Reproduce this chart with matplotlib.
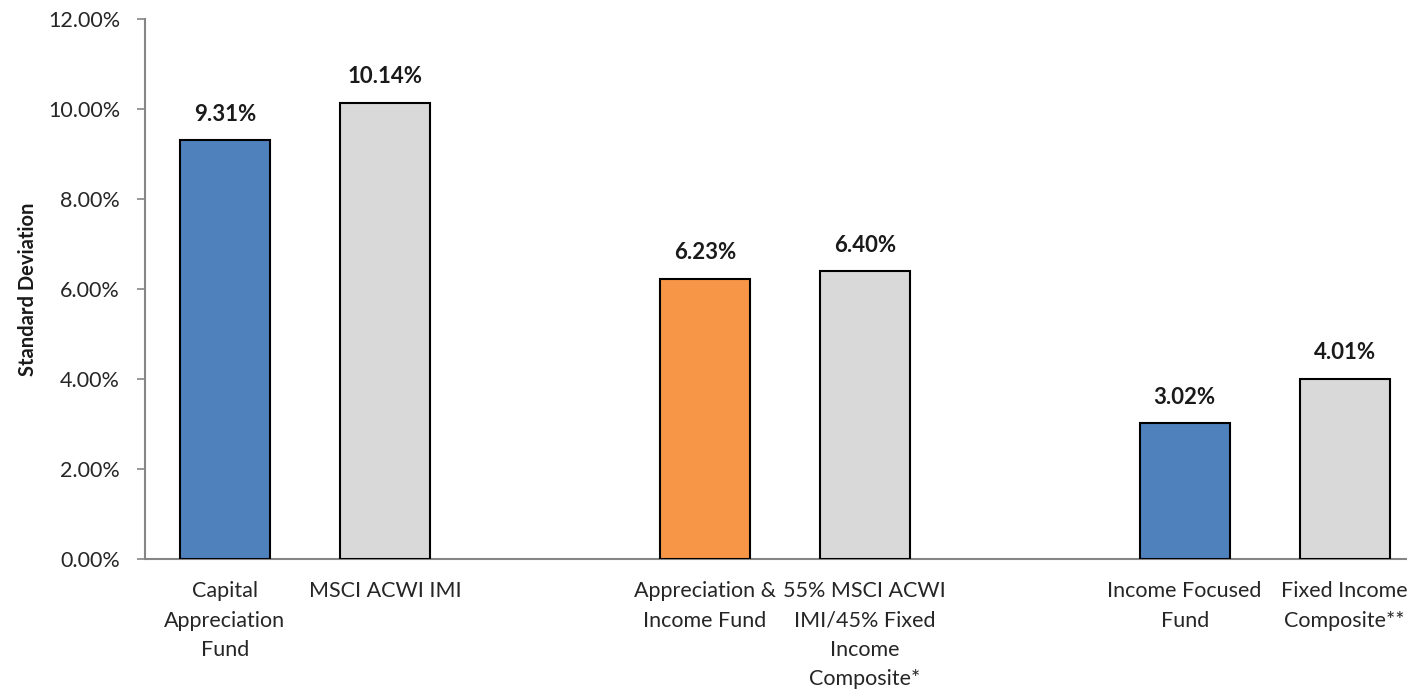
import matplotlib
matplotlib.use("Agg")
import matplotlib.pyplot as plt
from matplotlib.ticker import FuncFormatter, MultipleLocator

categories = ["Capital\nAppreciation\nFund", "MSCI ACWI IMI",
              "Appreciation &\nIncome Fund", "55% MSCI ACWI\nIMI/45% Fixed\nIncome\nComposite*",
              "Income Focused\nFund", "Fixed Income\nComposite**"]
values = [9.31, 10.14, 6.23, 6.40, 3.02, 4.01]
colors = ["#4F81BD", "#D9D9D9", "#F79646", "#D9D9D9", "#4F81BD", "#D9D9D9"]
group_size = 2

plt.rcParams['font.family'] = ['Lato', 'DejaVu Sans']

fig = plt.figure(figsize=(14.07, 6.9), dpi=100)
ax = fig.add_axes([145/1407, 131/690, 1 - 145/1407, 540/690])

positions = [(i // group_size) * (group_size + 1) + (i % group_size) for i in range(len(values))]
bars = ax.bar(positions, values, width=0.5625, color=colors, edgecolor="black", linewidth=1.5, zorder=3)

for p, v in zip(positions, values):
    ax.annotate(f"{v:.2f}%", xy=(p, v), xytext=(0, 11), textcoords="offset points",
                ha="center", va="bottom", fontsize=16, fontweight="bold", color="#1a1a1a")

ax.set_ylim(0, 12)
ax.set_xlim(-0.5, 7.39)
ax.yaxis.set_major_locator(MultipleLocator(2))
ax.yaxis.set_major_formatter(FuncFormatter(lambda y, _: f"{y:.2f}%"))
ax.set_xticks(positions)
ax.set_xticklabels(categories, fontsize=15.5, color="#262626", linespacing=1.58)
ax.tick_params(axis="x", length=0, pad=16)
ax.tick_params(axis="y", length=6, width=1.2, color="#868686", labelsize=15.5, labelcolor="#262626", pad=12)

for s in ["top", "right"]:
    ax.spines[s].set_visible(False)
for s in ["left", "bottom"]:
    ax.spines[s].set_color("#868686")
    ax.spines[s].set_linewidth(1.5)

ax.set_ylabel("Standard Deviation", fontsize=14.5, fontweight="bold", color="#1a1a1a", labelpad=7)

fig.savefig("out.png", dpi=100)
